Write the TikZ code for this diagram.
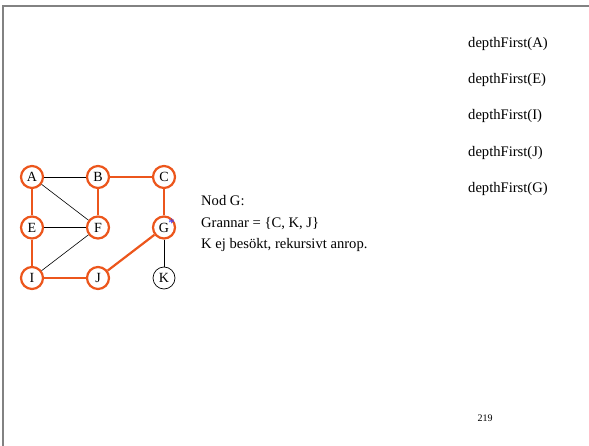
\documentclass[tikz,border=0pt]{standalone}
\usepackage{fontspec}
\setmainfont{Liberation Serif}
\usetikzlibrary{positioning}

\definecolor{visited}{RGB}{236,86,28}
\definecolor{frameline}{RGB}{130,130,130}

\begin{document}
\begin{tikzpicture}[x=1pt, y=-1pt, on grid, node distance=50.5pt and 66pt,
  every node/.style={font=\fontsize{14}{15}\selectfont},
  vertex/.style={draw, circle, line width=0.7pt, fill=white, minimum size=22pt, inner sep=0pt},
  seen/.style={vertex, draw=visited, line width=2.2pt},
  edge/.style={line width=0.6pt},
  tree/.style={draw=visited, line width=2.2pt},
  call/.style={anchor=base west, inner sep=0pt, font=\fontsize{14.6}{18}\selectfont}
]
\useasboundingbox (0,0) rectangle (589,446);
% slide frame
\draw[frameline, line width=1.3pt] (3,446) -- (3,6) -- (589,6);

% graph
\node[seen] (A) at (32,177) {A};
\node[seen, right=of A] (B) {B};
\node[seen, right=of B] (C) {C};
\node[seen, below=of A] (E) {E};
\node[seen, right=of E] (F) {F};
\node[seen, right=of F] (G) {G};
\node[seen, below=of E] (I) {I};
\node[seen, right=of I] (J) {J};
\node[vertex, right=of J] (K) {K};

\draw[edge] (A) -- (B);
\draw[edge] (A) -- (F);
\draw[edge] (E) -- (F);
\draw[edge] (I) -- (F);
\draw[edge] (G) -- (K);
\draw[tree] (A) -- (E);
\draw[tree] (E) -- (I);
\draw[tree] (I) -- (J);
\draw[tree] (J) -- (G);
\draw[tree] (G) -- (C);
\draw[tree] (C) -- (B);
\draw[tree] (B) -- (F);

\node[blue!80!white, inner sep=0pt, font=\fontsize{13}{13}\selectfont] (mark) at (171.5,223.5) {*};

% current step (base = last line)
\node[call, align=left, font=\fontsize{14.6}{21.5}\selectfont] (info) at (201,249)
  {Nod G:\\Grannar = \{C, K, J\}\\K ej besökt, rekursivt anrop.};

% call stack
\node[call] (c1) at (468,48) {depthFirst(A)};
\node[call] (c2) at (468,84) {depthFirst(E)};
\node[call] (c3) at (468,120) {depthFirst(I)};
\node[call] (c4) at (468,156.5) {depthFirst(J)};
\node[call] (c5) at (468,193) {depthFirst(G)};

\node[font=\fontsize{10}{10}\selectfont] (page) at (485,418) {219};
\end{tikzpicture}
\end{document}
